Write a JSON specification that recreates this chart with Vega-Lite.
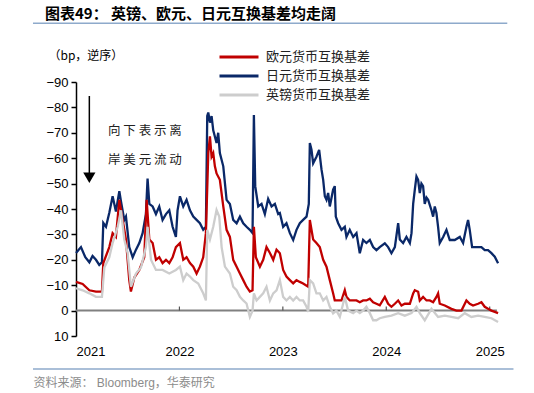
{
  "$schema": "https://vega.github.io/schema/vega-lite/v6.json",
  "width": 423,
  "height": 254,
  "autosize": {"type": "none"},
  "padding": {"left": 76, "top": 82, "right": 35, "bottom": 57},
  "background": "white",
  "config": {"view": {"stroke": null}, "font": "Liberation Sans, Noto Sans CJK SC"},
  "title": {"text": "图表49： 英镑、欧元、日元互换基差均走阔", "anchor": "start", "frame": "group", "fontSize": 15, "fontWeight": "bold", "font": "Noto Sans CJK SC", "color": "#000000", "dx": -31, "offset": 1},
  "datasets": {
    "jpy": [
      {"t":2021.000,"v":-22.7},{"t":2021.048,"v":-25},{"t":2021.090,"v":-21},{"t":2021.129,"v":-19},{"t":2021.160,"v":-21.5},{"t":2021.193,"v":-20},{"t":2021.225,"v":-18},{"t":2021.251,"v":-19},
      {"t":2021.264,"v":-34.5},{"t":2021.290,"v":-33},{"t":2021.322,"v":-38.5},{"t":2021.354,"v":-45},{"t":2021.386,"v":-39},{"t":2021.419,"v":-47},{"t":2021.435,"v":-43},{"t":2021.467,"v":-35.7},{"t":2021.483,"v":-37},
      {"t":2021.515,"v":-25},{"t":2021.548,"v":-21},{"t":2021.580,"v":-24},{"t":2021.612,"v":-26.6},{"t":2021.644,"v":-30.5},{"t":2021.676,"v":-38},{"t":2021.692,"v":-52},{"t":2021.709,"v":-42},
      {"t":2021.741,"v":-41},{"t":2021.773,"v":-38},{"t":2021.805,"v":-41},{"t":2021.837,"v":-35.7},{"t":2021.870,"v":-38},{"t":2021.902,"v":-39.5},{"t":2021.934,"v":-33},{"t":2021.966,"v":-29},{"t":2021.982,"v":-39.5},
      {"t":2022.005,"v":-45},{"t":2022.037,"v":-41},{"t":2022.069,"v":-43.6},{"t":2022.102,"v":-39.5},{"t":2022.134,"v":-37},{"t":2022.166,"v":-35.7},{"t":2022.198,"v":-34.4},{"t":2022.230,"v":-31.8},{"t":2022.256,"v":-33},
      {"t":2022.269,"v":-76.6},{"t":2022.279,"v":-78},{"t":2022.295,"v":-74},{"t":2022.311,"v":-76.6},{"t":2022.327,"v":-71},{"t":2022.359,"v":-66},{"t":2022.375,"v":-70},{"t":2022.391,"v":-62},{"t":2022.424,"v":-56.8},
      {"t":2022.456,"v":-43.6},{"t":2022.488,"v":-42},{"t":2022.520,"v":-35.7},{"t":2022.553,"v":-34.4},{"t":2022.585,"v":-37},{"t":2022.617,"v":-34.4},{"t":2022.649,"v":-33},{"t":2022.681,"v":-31.8},{"t":2022.707,"v":-30.5},
      {"t":2022.720,"v":-77},{"t":2022.733,"v":-49},{"t":2022.762,"v":-41},{"t":2022.794,"v":-42},{"t":2022.826,"v":-38},{"t":2022.858,"v":-44},{"t":2022.891,"v":-41},{"t":2022.923,"v":-42},{"t":2022.955,"v":-38},
      {"t":2022.971,"v":-38.4},{"t":2023.003,"v":-33},{"t":2023.035,"v":-34.4},{"t":2023.068,"v":-30.5},{"t":2023.100,"v":-27.8},{"t":2023.132,"v":-31.8},{"t":2023.164,"v":-34.4},{"t":2023.196,"v":-35.7},{"t":2023.229,"v":-37},{"t":2023.251,"v":-42},
      {"t":2023.261,"v":-66},{"t":2023.277,"v":-63.3},{"t":2023.293,"v":-58},{"t":2023.325,"v":-60.6},{"t":2023.351,"v":-63.3},{"t":2023.374,"v":-55.5},{"t":2023.390,"v":-51.5},{"t":2023.406,"v":-45},{"t":2023.422,"v":-43.6},
      {"t":2023.438,"v":-46.3},{"t":2023.454,"v":-41},{"t":2023.486,"v":-47.6},{"t":2023.502,"v":-49},{"t":2023.512,"v":-37},{"t":2023.535,"v":-34.4},{"t":2023.567,"v":-31.8},{"t":2023.599,"v":-33},{"t":2023.615,"v":-29},
      {"t":2023.647,"v":-31.8},{"t":2023.680,"v":-29},{"t":2023.712,"v":-30.5},{"t":2023.744,"v":-22.6},{"t":2023.776,"v":-27.8},{"t":2023.808,"v":-26.6},{"t":2023.841,"v":-27.8},{"t":2023.873,"v":-25},{"t":2023.905,"v":-23.8},{"t":2023.937,"v":-25},
      {"t":2023.986,"v":-26.5},{"t":2024.018,"v":-25},{"t":2024.050,"v":-22.6},{"t":2024.083,"v":-25},{"t":2024.115,"v":-34.4},{"t":2024.131,"v":-28},{"t":2024.163,"v":-26.6},{"t":2024.195,"v":-29},{"t":2024.228,"v":-26.6},{"t":2024.244,"v":-30.5},
      {"t":2024.260,"v":-42},{"t":2024.276,"v":-47.6},{"t":2024.292,"v":-52.8},{"t":2024.308,"v":-51.5},{"t":2024.324,"v":-46.3},{"t":2024.340,"v":-50},{"t":2024.356,"v":-49},{"t":2024.372,"v":-42},{"t":2024.389,"v":-44.5},{"t":2024.405,"v":-43.6},
      {"t":2024.437,"v":-39.5},{"t":2024.453,"v":-37},{"t":2024.469,"v":-41},{"t":2024.485,"v":-38.4},{"t":2024.501,"v":-33},{"t":2024.517,"v":-26.6},{"t":2024.550,"v":-29},{"t":2024.582,"v":-31.8},{"t":2024.614,"v":-27.8},{"t":2024.662,"v":-27.8},
      {"t":2024.711,"v":-29},{"t":2024.743,"v":-26.6},{"t":2024.775,"v":-33},{"t":2024.791,"v":-35.7},{"t":2024.807,"v":-31.8},{"t":2024.830,"v":-25},{"t":2024.872,"v":-25},{"t":2024.920,"v":-25},{"t":2024.952,"v":-23.8},{"t":2024.984,"v":-23.8},
      {"t":2025.017,"v":-22.6},{"t":2025.049,"v":-21.2},{"t":2025.081,"v":-18.6}
    ],
    "eur": [
      {"t":2021.000,"v":-11.3},{"t":2021.064,"v":-10.5},{"t":2021.129,"v":-8},{"t":2021.193,"v":-7.5},{"t":2021.251,"v":-7.5},{"t":2021.264,"v":-18.7},{"t":2021.322,"v":-25},{"t":2021.354,"v":-30.5},{"t":2021.386,"v":-29},
      {"t":2021.419,"v":-43.6},{"t":2021.451,"v":-35.7},{"t":2021.483,"v":-28},{"t":2021.515,"v":-12},{"t":2021.531,"v":-7.5},{"t":2021.564,"v":-13},{"t":2021.612,"v":-16},{"t":2021.660,"v":-21},{"t":2021.683,"v":-43.6},
      {"t":2021.709,"v":-28},{"t":2021.741,"v":-26.6},{"t":2021.773,"v":-20},{"t":2021.805,"v":-21},{"t":2021.837,"v":-18.7},{"t":2021.870,"v":-20},{"t":2021.902,"v":-18.7},{"t":2021.934,"v":-21},{"t":2021.966,"v":-25},
      {"t":2022.005,"v":-26.6},{"t":2022.037,"v":-20},{"t":2022.069,"v":-21},{"t":2022.102,"v":-18.7},{"t":2022.134,"v":-17.3},{"t":2022.166,"v":-14.6},{"t":2022.198,"v":-17.3},{"t":2022.230,"v":-21},{"t":2022.256,"v":-30.5},
      {"t":2022.279,"v":-62},{"t":2022.295,"v":-68.6},{"t":2022.311,"v":-60.6},{"t":2022.327,"v":-62},{"t":2022.343,"v":-56.8},{"t":2022.359,"v":-54},{"t":2022.391,"v":-51.5},{"t":2022.424,"v":-41},{"t":2022.456,"v":-31.8},
      {"t":2022.488,"v":-29},{"t":2022.520,"v":-20},{"t":2022.553,"v":-17.3},{"t":2022.585,"v":-14.6},{"t":2022.617,"v":-12},{"t":2022.649,"v":-9.4},{"t":2022.681,"v":-7.5},{"t":2022.707,"v":-8},
      {"t":2022.720,"v":-33},{"t":2022.739,"v":-21},{"t":2022.778,"v":-17.3},{"t":2022.810,"v":-20},{"t":2022.842,"v":-25},{"t":2022.875,"v":-22.7},{"t":2022.907,"v":-20},{"t":2022.939,"v":-24},{"t":2022.971,"v":-22.6},
      {"t":2023.003,"v":-16},{"t":2023.035,"v":-13.4},{"t":2023.068,"v":-12},{"t":2023.100,"v":-10.7},{"t":2023.132,"v":-12},{"t":2023.164,"v":-11.3},{"t":2023.196,"v":-10.7},{"t":2023.245,"v":-9.4},
      {"t":2023.261,"v":-35.7},{"t":2023.293,"v":-28},{"t":2023.325,"v":-26.6},{"t":2023.357,"v":-25},{"t":2023.390,"v":-20},{"t":2023.422,"v":-17.3},{"t":2023.454,"v":-12},{"t":2023.486,"v":-6.8},{"t":2023.502,"v":-4},
      {"t":2023.535,"v":-4},{"t":2023.567,"v":-4},{"t":2023.599,"v":-8},{"t":2023.615,"v":-5.4},{"t":2023.647,"v":-4},{"t":2023.680,"v":-4},{"t":2023.712,"v":-4},{"t":2023.744,"v":-3.3},{"t":2023.776,"v":-4},{"t":2023.808,"v":-4},
      {"t":2023.841,"v":-4.7},{"t":2023.873,"v":-3.3},{"t":2023.905,"v":-2.7},{"t":2023.937,"v":-2.1},{"t":2023.986,"v":-5.4},{"t":2024.018,"v":-2.7},{"t":2024.050,"v":-1.5},{"t":2024.083,"v":-2.7},{"t":2024.115,"v":-4},
      {"t":2024.147,"v":-2},{"t":2024.179,"v":-2.7},{"t":2024.228,"v":-2.7},{"t":2024.260,"v":-6.8},{"t":2024.276,"v":-8},{"t":2024.308,"v":-7.4},{"t":2024.324,"v":-4},{"t":2024.356,"v":-5.4},{"t":2024.389,"v":-4},
      {"t":2024.421,"v":-4},{"t":2024.453,"v":-3.3},{"t":2024.485,"v":-5.4},{"t":2024.501,"v":-6.8},{"t":2024.517,"v":-2.7},{"t":2024.566,"v":-2},{"t":2024.630,"v":-0.7},{"t":2024.678,"v":0},{"t":2024.727,"v":0},
      {"t":2024.775,"v":-4},{"t":2024.807,"v":-2.7},{"t":2024.839,"v":-2},{"t":2024.888,"v":-2.7},{"t":2024.920,"v":-3.3},{"t":2024.952,"v":-1.5},{"t":2024.984,"v":-0.7},{"t":2025.017,"v":0},{"t":2025.049,"v":0.5},{"t":2025.081,"v":1}
    ],
    "gbp": [
      {"t":2021.000,"v":-8.8},{"t":2021.064,"v":-8},{"t":2021.129,"v":-6.8},{"t":2021.193,"v":-5.4},{"t":2021.251,"v":-5.4},{"t":2021.274,"v":-17},{"t":2021.322,"v":-21},{"t":2021.354,"v":-26.6},{"t":2021.403,"v":-33},
      {"t":2021.435,"v":-39.5},{"t":2021.467,"v":-28},{"t":2021.499,"v":-22.7},{"t":2021.531,"v":-9.4},{"t":2021.580,"v":-14.6},{"t":2021.628,"v":-17},{"t":2021.676,"v":-25},{"t":2021.692,"v":-33},{"t":2021.725,"v":-20},
      {"t":2021.773,"v":-16},{"t":2021.837,"v":-16},{"t":2021.902,"v":-14.6},{"t":2021.966,"v":-16},{"t":2022.005,"v":-17.3},{"t":2022.037,"v":-12},{"t":2022.069,"v":-14.6},{"t":2022.102,"v":-13.4},{"t":2022.134,"v":-12},
      {"t":2022.182,"v":-10.7},{"t":2022.230,"v":-6.8},{"t":2022.256,"v":-4},{"t":2022.269,"v":-31.8},{"t":2022.295,"v":-28},{"t":2022.327,"v":-33},{"t":2022.359,"v":-39.6},{"t":2022.385,"v":-37},{"t":2022.408,"v":-25},
      {"t":2022.440,"v":-17.3},{"t":2022.488,"v":-14.6},{"t":2022.520,"v":-9.4},{"t":2022.553,"v":-8},{"t":2022.585,"v":-5.4},{"t":2022.617,"v":-4},{"t":2022.649,"v":-2.8},{"t":2022.681,"v":2.5},{"t":2022.707,"v":0},
      {"t":2022.720,"v":-6.8},{"t":2022.746,"v":-4},{"t":2022.778,"v":-5.4},{"t":2022.810,"v":-6.8},{"t":2022.842,"v":-9.4},{"t":2022.875,"v":-4},{"t":2022.907,"v":-6.8},{"t":2022.939,"v":-8},{"t":2022.971,"v":-12},
      {"t":2023.003,"v":-5.4},{"t":2023.035,"v":-4},{"t":2023.068,"v":-5.4},{"t":2023.100,"v":-4},{"t":2023.132,"v":-5.4},{"t":2023.164,"v":-4},{"t":2023.196,"v":-4},{"t":2023.229,"v":-1.5},{"t":2023.245,"v":0.5},
      {"t":2023.261,"v":-12},{"t":2023.293,"v":-10.7},{"t":2023.325,"v":-6.8},{"t":2023.357,"v":-6.8},{"t":2023.390,"v":-4},{"t":2023.422,"v":-5.4},{"t":2023.454,"v":-1.5},{"t":2023.486,"v":1.1},{"t":2023.518,"v":0},
      {"t":2023.551,"v":2.5},{"t":2023.599,"v":-5.4},{"t":2023.631,"v":0},{"t":2023.680,"v":1},{"t":2023.712,"v":0},{"t":2023.744,"v":1},{"t":2023.776,"v":0},{"t":2023.808,"v":-1.5},{"t":2023.841,"v":1},{"t":2023.873,"v":3.8},
      {"t":2023.905,"v":3.8},{"t":2023.937,"v":3},{"t":2023.986,"v":2.5},{"t":2024.050,"v":2},{"t":2024.115,"v":1},{"t":2024.179,"v":2},{"t":2024.244,"v":1},{"t":2024.292,"v":-1.5},{"t":2024.324,"v":1},{"t":2024.372,"v":3.8},
      {"t":2024.437,"v":-0.7},{"t":2024.501,"v":2.5},{"t":2024.566,"v":2},{"t":2024.630,"v":2.5},{"t":2024.695,"v":3},{"t":2024.759,"v":1},{"t":2024.823,"v":2.5},{"t":2024.888,"v":2},{"t":2024.952,"v":2.5},{"t":2025.017,"v":3},{"t":2025.081,"v":4.5}
    ]
  },
  "encoding": {
    "x": {"type": "quantitative", "scale": {"domain": [2021, 2025.09], "nice": false, "zero": false},
      "axis": {"values": [2021, 2022, 2023, 2024, 2025], "format": "d", "domain": false, "ticks": false, "grid": false, "labelFontSize": 13, "labelColor": "#000000", "labelPadding": 9, "labelFont": "Liberation Sans",
        "title": "资料来源：  Bloomberg，华泰研究", "titleFontSize": 12, "titleFontWeight": "normal", "titleColor": "#8c8c8c", "titleAlign": "left", "titleAnchor": "start", "titleX": -43, "titleY": 46, "titleBaseline": "middle", "titleFont": "Liberation Sans, Noto Sans CJK SC"}},
    "y": {"type": "quantitative", "scale": {"domain": [-90, 10], "reverse": true, "nice": false, "zero": false},
      "axis": {"values": [-90, -80, -70, -60, -50, -40, -30, -20, -10, 0, 10], "grid": false, "domainColor": "#000000", "domainWidth": 1.5, "tickColor": "#000000", "tickSize": 5, "tickWidth": 1.5, "labelFontSize": 13, "labelColor": "#000000", "labelPadding": 3, "labelFont": "Liberation Sans",
        "title": "（bp，逆序）", "titleAngle": 0, "titleFontSize": 12, "titleFontWeight": "normal", "titleColor": "#000000", "titleAlign": "left", "titleBaseline": "middle", "titleX": -28, "titleY": -27, "titleFont": "Noto Sans CJK SC"}}
  },
  "layer": [
    {"data": {"values": [{}]}, "mark": {"type": "rule", "color": "#808080", "strokeWidth": 2}, "encoding": {"y": {"datum": 0}, "x": {"datum": 2021}, "x2": {"datum": 2025.07}}},
    {"data": {"values": [{"t": 2022}, {"t": 2023}, {"t": 2024}, {"t": 2025}]}, "mark": {"type": "rule", "color": "#555555", "strokeWidth": 1.2}, "encoding": {"x": {"field": "t"}, "y": {"datum": 0}, "y2": {"datum": -1.6}}},
    {"data": {"name": "jpy"}, "mark": {"type": "line", "strokeWidth": 2.3},
      "encoding": {"x": {"field": "t"}, "y": {"field": "v"},
        "color": {"datum": "日元货币互换基差", "type": "nominal",
          "scale": {"domain": ["欧元货币互换基差", "日元货币互换基差", "英镑货币互换基差"], "range": ["#C00000", "#0A2868", "#CDCDCD"]},
          "legend": {"title": null, "orient": "none", "legendX": 155, "legendY": -33, "symbolType": "M-3,0H3", "symbolSize": 169, "symbolStrokeWidth": 3, "labelFontSize": 13, "labelFont": "Noto Sans CJK SC", "labelColor": "#222222", "rowPadding": 4, "labelOffset": 19}}}},
    {"data": {"name": "eur"}, "mark": {"type": "line", "strokeWidth": 2.3},
      "encoding": {"x": {"field": "t"}, "y": {"field": "v"}, "color": {"datum": "欧元货币互换基差", "type": "nominal"}}},
    {"data": {"name": "gbp"}, "mark": {"type": "line", "strokeWidth": 2.3},
      "encoding": {"x": {"field": "t"}, "y": {"field": "v"}, "color": {"datum": "英镑货币互换基差", "type": "nominal"}}},
    {"data": {"values": [{}]}, "mark": {"type": "rule", "color": "#8EAACB", "strokeWidth": 1.5}, "encoding": {"y": {"datum": -113.1}, "x": {"datum": 2020.584}, "x2": {"datum": 2025.17}}},
    {"data": {"values": [{}]}, "mark": {"type": "rule", "color": "#8EAACB", "strokeWidth": 1.5}, "encoding": {"y": {"datum": 23}, "x": {"datum": 2020.584}, "x2": {"datum": 2025.23}}},
    {"data": {"values": [{}]}, "mark": {"type": "rule", "color": "#000000", "strokeWidth": 1.5}, "encoding": {"x": {"datum": 2021.129}, "y": {"datum": -84.5}, "y2": {"datum": -53.5}}},
    {"data": {"values": [{}]}, "mark": {"type": "point", "shape": "triangle-down", "filled": true, "color": "#000000", "opacity": 1, "size": 150}, "encoding": {"x": {"datum": 2021.129}, "y": {"datum": -52.3}}},
    {"data": {"values": [{}]}, "mark": {"type": "text", "align": "left", "baseline": "middle", "fontSize": 12.5, "font": "Noto Sans CJK SC", "color": "#222222"}, "encoding": {"x": {"datum": 2021.31}, "y": {"datum": -70.9}, "text": {"value": "向 下 表 示 离"}}},
    {"data": {"values": [{}]}, "mark": {"type": "text", "align": "left", "baseline": "middle", "fontSize": 12.5, "font": "Noto Sans CJK SC", "color": "#222222"}, "encoding": {"x": {"datum": 2021.31}, "y": {"datum": -59.1}, "text": {"value": "岸 美 元 流 动"}}}
  ]
}
